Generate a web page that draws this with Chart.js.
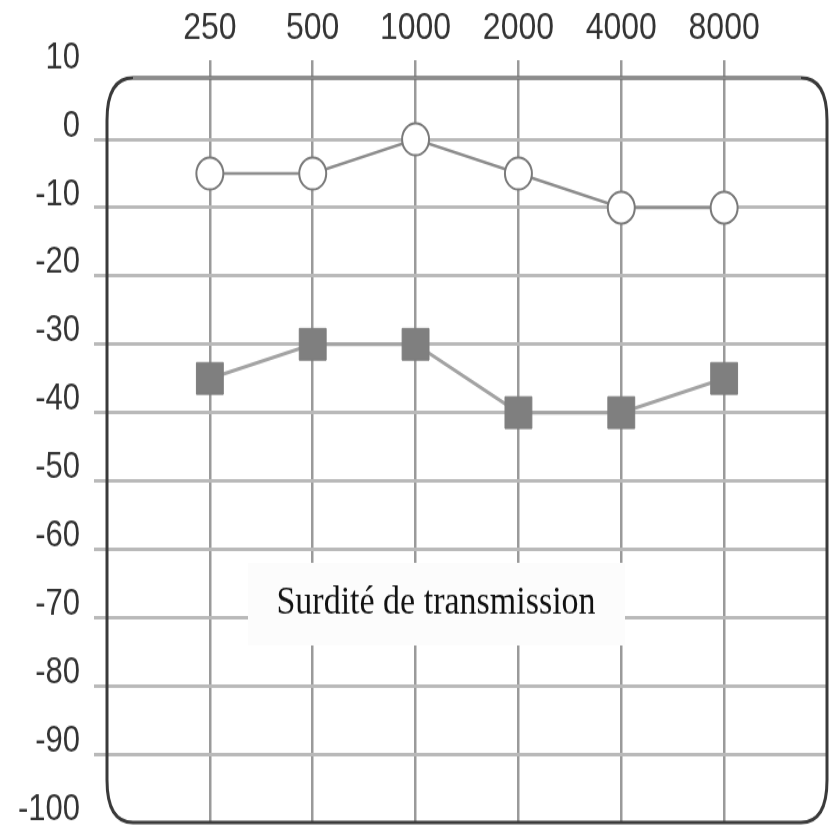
<!DOCTYPE html>
<html>
<head>
<meta charset="utf-8">
<script src="https://cdn.jsdelivr.net/npm/chart.js@4.4.1/dist/chart.umd.min.js"></script>
<style>
  html, body { margin: 0; padding: 0; background: #fff; }
  #outer { width: 833px; height: 826px; position: relative; }
  /* the original picture is stretched vertically, so we draw at 700px and stretch */
  #wrap { position: absolute; left: 0; top: 0; width: 833px; height: 700px; transform: scaleY(1.18); transform-origin: 0 0; }
  canvas { display: block; }
</style>
</head>
<body>
<div id="outer"><div id="wrap"><canvas id="audiogram" width="833" height="700"></canvas></div></div>
<script>
// audiogram values (dB)
var frequencies = ['250', '500', '1000', '2000', '4000', '8000'];
var circleValues = [-5, -5, 0, -5, -10, -10];
var squareValues = [-35, -30, -30, -40, -40, -35];
var yTicks = [10, 0, -10, -20, -30, -40, -50, -60, -70, -80, -90, -100];
var caption = 'Surdité de transmission';

function toPoints(values) {
    return values.map(function (v, i) { return { x: i, y: v }; });
}

// no extra room for half labels at the ends
function noPadding(scale) {
    scale.paddingTop = 0;
    scale.paddingBottom = 0;
    scale.paddingLeft = 0;
    scale.paddingRight = 0;
}

// rounded frame round the plot + caption panel
var framePlugin = {
    id: 'frame',
    beforeDatasetsDraw: function (chart) {
        var ctx = chart.ctx;
        var a = chart.chartArea;
        ctx.save();
        // caption
        ctx.fillStyle = '#fcfcfc';
        ctx.fillRect(248, 477, 377, 70);
        ctx.fillStyle = '#111111';
        ctx.font = '34px "Liberation Serif", "Times New Roman", serif';
        ctx.textAlign = 'center';
        ctx.textBaseline = 'alphabetic';
        ctx.fillText(caption, 436, 520);
        // frame
        var l = a.left, r = a.right, t = a.top, b = a.bottom, rx = 26, ry = 36;
        ctx.beginPath();
        ctx.moveTo(l + rx, t);
        ctx.lineTo(r - rx, t);
        ctx.quadraticCurveTo(r, t, r, t + ry);
        ctx.lineTo(r, b - ry);
        ctx.quadraticCurveTo(r, b, r - rx, b);
        ctx.lineTo(l + rx, b);
        ctx.quadraticCurveTo(l, b, l, b - ry);
        ctx.lineTo(l, t + ry);
        ctx.quadraticCurveTo(l, t, l + rx, t);
        ctx.closePath();
        ctx.lineWidth = 3;
        ctx.strokeStyle = '#3a3a3a';
        ctx.stroke();
        ctx.beginPath();
        ctx.moveTo(l + rx, t);
        ctx.lineTo(r - rx, t);
        ctx.strokeStyle = '#8c8c8c';
        ctx.stroke();
        ctx.restore();
    }
};

var canvas = document.getElementById('audiogram');
new Chart(canvas, {
    type: 'line',
    data: {
        datasets: [{
            data: toPoints(circleValues),
            borderColor: '#8c8c8c',
            borderWidth: 2.5,
            pointStyle: 'circle',
            pointRadius: 13.5,
            pointBackgroundColor: '#ffffff',
            pointBorderColor: '#7a7a7a',
            pointBorderWidth: 2,
            tension: 0
        }, {
            data: toPoints(squareValues),
            borderColor: '#a3a3a3',
            borderWidth: 3,
            pointStyle: 'rect',
            pointRadius: 19,
            pointBackgroundColor: '#7f7f7f',
            pointBorderColor: '#7f7f7f',
            pointBorderWidth: 1,
            tension: 0
        }]
    },
    options: {
        responsive: false,
        animation: false,
        layout: { autoPadding: false, padding: { left: 0, right: 6, top: 0, bottom: 3 } },
        plugins: {
            legend: { display: false },
            tooltip: { enabled: false }
        },
        scales: {
            x: {
                type: 'linear',
                position: 'top',
                min: -1,
                max: 6,
                border: { display: false },
                afterFit: function (scale) { scale.height = 66; noPadding(scale); },
                grid: {
                    color: function (c) {
                        var v = c.tick ? c.tick.value : null;
                        return (v === -1 || v === 6) ? 'rgba(0,0,0,0)' : '#9a9a9a';
                    },
                    lineWidth: 2.5,
                    tickLength: 15
                },
                ticks: {
                    stepSize: 1,
                    autoSkip: false,
                    maxRotation: 0,
                    padding: 8,
                    color: '#333333',
                    font: { family: '"Liberation Sans", Arial, sans-serif', size: 32 },
                    callback: function (v) {
                        return frequencies[v] !== undefined ? frequencies[v] : '';
                    }
                }
            },
            y: {
                min: -100,
                max: 9,
                border: { display: false },
                afterFit: function (scale) { scale.width = 107; noPadding(scale); },
                afterBuildTicks: function (scale) {
                    scale.ticks = yTicks.map(function (v) { return { value: v }; });
                },
                grid: {
                    color: function (c) {
                        var v = c.tick ? c.tick.value : null;
                        return (v === 10 || v === -100) ? 'rgba(0,0,0,0)' : '#b9b9b9';
                    },
                    lineWidth: 3,
                    tickLength: 13
                },
                ticks: {
                    autoSkip: false,
                    padding: 14,
                    labelOffset: -11,
                    color: '#333333',
                    font: { family: '"Liberation Sans", Arial, sans-serif', size: 31 },
                    callback: function (v) { return String(v); }
                }
            }
        }
    },
    plugins: [framePlugin]
});
</script>
</body>
</html>
